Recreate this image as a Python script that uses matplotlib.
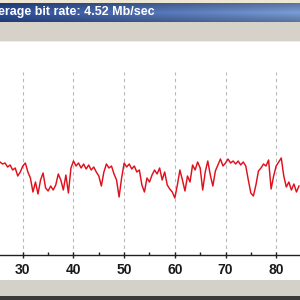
import numpy as np
import matplotlib
matplotlib.use("Agg")
import matplotlib.pyplot as plt
from matplotlib.patches import Rectangle

# ---- data ----
title_text = "erage bit rate: 4.52 Mb/sec"
t_start = 25.5      # seconds at left edge of the visible window
t_step = 0.5        # sampling interval (s)
bitrate = [4.65, 4.55, 4.60, 4.40, 4.50, 4.25, 4.35, 3.95, 4.15, 4.45,
           4.60, 4.15, 3.85, 3.15, 3.65, 3.05, 3.75, 4.10, 3.35, 3.20,
           3.45, 3.25, 3.50, 4.05, 3.75, 3.25, 4.00, 3.10, 4.35, 4.70,
           4.45, 4.60, 4.35, 4.55, 4.30, 4.50, 4.25, 4.40, 4.15, 3.95,
           3.45, 4.15, 4.55, 4.35, 4.45, 4.05, 3.75, 2.90, 3.85, 4.60,
           4.40, 4.55, 4.30, 4.45, 4.15, 4.25, 3.50, 3.15, 3.85, 3.65,
           4.00, 4.25, 4.05, 4.35, 3.75, 4.15, 3.50, 3.30, 3.15, 2.85,
           3.50, 4.25, 3.75, 3.20, 3.95, 3.65, 4.50, 4.25, 4.65, 4.35,
           3.25, 4.15, 4.70, 4.00, 3.45, 4.20, 4.50, 4.80, 4.45, 4.60,
           4.80, 4.60, 4.70, 4.55, 4.70, 4.50, 4.65, 4.45, 3.75, 3.10,
           2.95, 3.50, 4.20, 4.35, 4.55, 4.45, 4.75, 3.30, 3.95, 4.45,
           4.65, 4.85, 3.95, 3.40, 3.65, 3.25, 3.55, 3.15, 3.45]
major_ticks = [30, 40, 50, 60, 70, 80]
minor_ticks = [35, 45, 55, 65, 75]
xlim = (25.5, 84.7)
ylim = (0, 10.65)
grid_top = 9.15

time = t_start + t_step * np.arange(len(bitrate))

W = H = 300
fig = plt.figure(figsize=(3, 3), dpi=100)
fig.patch.set_facecolor("white")

def frect(y0, y1, color, **kw):
    # y measured in pixels from top
    r = Rectangle((0, 1 - y1 / H), 1, (y1 - y0) / H, transform=fig.transFigure,
                  facecolor=color, edgecolor="none", zorder=0, **kw)
    fig.add_artist(r)

frect(0, 3, "#ece6d2")
frect(22, 41, "#d6d2ca")
frect(41, 42, "#f0eeea")
frect(280, 296, "#d4d1c9")
frect(296, 300, "#3a3a3a")

# title bar gradient
tax = fig.add_axes([0, 1 - 22 / H, 1, 19 / H])
grad = np.linspace(0, 1, 256)
c0 = np.array([0x2c, 0x4e, 0x9a]) / 255
c1 = np.array([0x7a, 0x9c, 0xd6]) / 255
vgrad = 1 - 0.25 * np.abs(np.linspace(-1, 1, 19))[:, None]
img = (c0[None, None, :] * (1 - grad[None, :, None]) + c1[None, None, :] * grad[None, :, None]) * vgrad[:, :, None]
img = np.clip(img, 0, 1)
tax.imshow(img, aspect="auto", extent=(0, 1, 0, 1))
tax.set_axis_off()
tax.text(-0.005, 0.5, title_text, color="white", fontweight="bold",
         family="Liberation Sans", fontsize=9, va="center", ha="left",
         transform=tax.transAxes)

# main plot axes
ax = fig.add_axes([0, (H - 255) / H, 1, (255 - 42) / H])
ax.set_facecolor("white")
ax.set_xlim(*xlim)
ax.set_ylim(*ylim)
ax.vlines(major_ticks, ylim[0], grid_top, colors="#b8b8b8",
          linestyles=(0, (3, 3)), linewidth=0.8, zorder=1)
ax.plot(time, bitrate, color="#e0101c", linewidth=1.05, zorder=3)

for s in ["top", "left", "right"]:
    ax.spines[s].set_visible(False)
ax.spines["bottom"].set_color("#202020")
ax.spines["bottom"].set_linewidth(1.0)
ax.set_yticks([])
ax.set_xticks(major_ticks)
ax.set_xticks(minor_ticks, minor=True)
ax.tick_params(axis="x", which="major", direction="inout", length=4,
               width=1, color="#202020", pad=4)
ax.tick_params(axis="x", which="minor", direction="in", length=2.2,
               width=1, color="#202020")
for lab in ax.get_xticklabels():
    lab.set_fontfamily("Liberation Sans")
    lab.set_fontweight("bold")
    lab.set_fontsize(10)
    lab.set_color("#1a1a1a")

fig.savefig("out.png", dpi=100)
